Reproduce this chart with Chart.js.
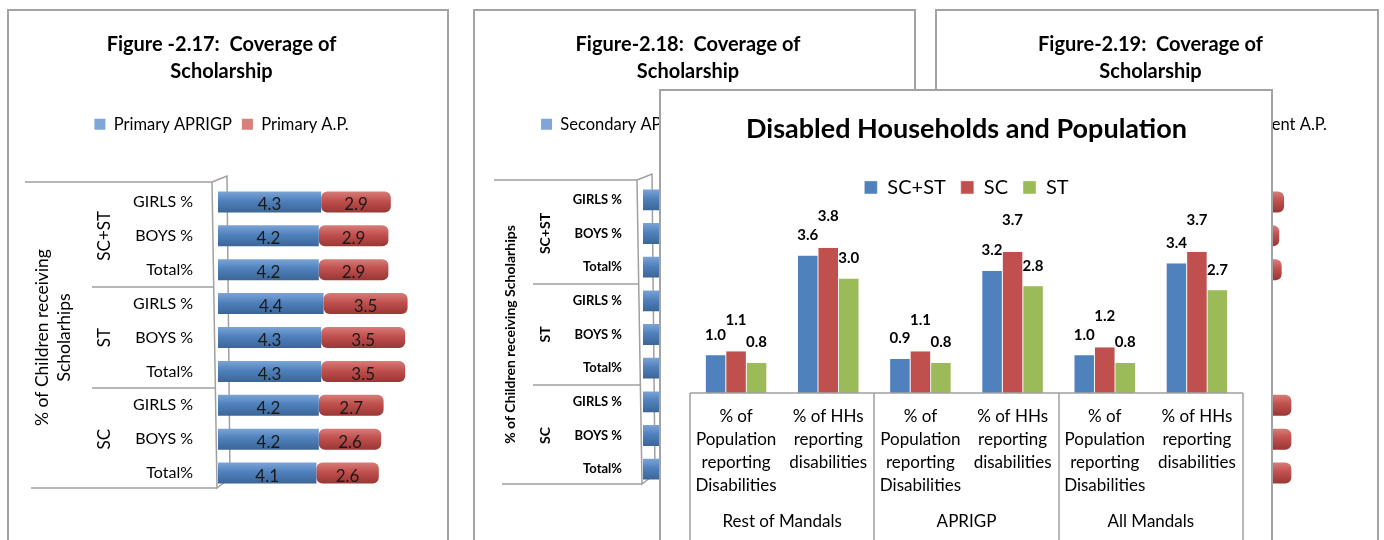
<!DOCTYPE html>
<html>
<head>
<meta charset="utf-8">
<script src="https://cdn.jsdelivr.net/npm/chart.js@4.4.1/dist/chart.umd.min.js"></script>
<style>
body { margin: 0; background: #fff; }
#page { position: relative; width: 1384px; height: 540px; overflow: hidden; background: #fff; }
.panel { position: absolute; border: 2px solid #a3a3a3; background: #fff; box-sizing: border-box; }
.panel canvas { position: absolute; left: 0; top: 0; }
</style>
</head>
<body>
<div id="page">
  <div class="panel" style="left:7px;top:9px;width:442px;height:560px"><canvas id="c1" width="438" height="529"></canvas></div>
  <div class="panel" style="left:473px;top:9px;width:443px;height:560px"><canvas id="c2" width="439" height="529"></canvas></div>
  <div class="panel" style="left:935px;top:9px;width:444px;height:560px"><canvas id="c3" width="440" height="529"></canvas></div>
  <div class="panel" style="left:659px;top:89px;width:614px;height:480px"><canvas id="c4" width="610" height="449"></canvas></div>
</div>
<script>
// ---- data ----
var rowLabels = ['GIRLS %', 'BOYS %', 'Total%', 'GIRLS %', 'BOYS %', 'Total%', 'GIRLS %', 'BOYS %', 'Total%'];
var rowGroupNames = ['SC+ST', 'ST', 'SC'];

var primaryAprigp = [4.3, 4.2, 4.2, 4.4, 4.3, 4.3, 4.2, 4.2, 4.1];
var primaryAP = [2.9, 2.9, 2.9, 3.5, 3.5, 3.5, 2.7, 2.6, 2.6];

// fig 2.18 / 2.19 are mostly hidden behind the front chart; values estimated
var secondaryAprigp = [3.9, 3.8, 3.8, 4.1, 4.0, 4.0, 3.7, 3.6, 3.6];
var secondaryAP = [2.4, 2.4, 2.3, 2.8, 2.8, 2.7, 2.2, 2.2, 2.1];
var juniorAprigp = [3.2, 3.1, 3.1, 2.8, 2.7, 2.7, 3.4, 3.4, 3.4];
var juniorAP = [2.5, 2.4, 2.5, 2.1, 2.1, 2.1, 2.6, 2.6, 2.6];

var disCategories = [
  ['% of', 'Population', 'reporting', 'Disabilities'], ['% of HHs', 'reporting', 'disabilities'],
  ['% of', 'Population', 'reporting', 'Disabilities'], ['% of HHs', 'reporting', 'disabilities'],
  ['% of', 'Population', 'reporting', 'Disabilities'], ['% of HHs', 'reporting', 'disabilities']
];
var disGroups = ['Rest of Mandals', 'APRIGP', 'All Mandals'];
var scst = [1.0, 3.6, 0.9, 3.2, 1.0, 3.4];
var sc = [1.1, 3.8, 1.1, 3.7, 1.2, 3.7];
var st = [0.8, 3.0, 0.8, 2.8, 0.8, 2.7];

var BLUE = '#4f81bd', RED = '#c0504d', GREEN = '#9bbb59';

Chart.defaults.font.family = 'Lato';
Chart.defaults.color = '#000';

// cylinder-ish shading across each horizontal bar
function cylinder(base, light, dark) {
  return function (c) {
    if (c.dataIndex === undefined || !c.chart.scales.y) return base;
    var y = c.chart.scales.y.getPixelForValue(c.dataIndex);
    if (!isFinite(y)) return base;
    var g = c.chart.ctx.createLinearGradient(0, y - 11, 0, y + 11);
    g.addColorStop(0, light);
    g.addColorStop(0.45, base);
    g.addColorStop(1, dark);
    return g;
  };
}

var barLabels = {
  id: 'barLabels',
  afterDatasetsDraw: function (chart, args, o) {
    var ctx = chart.ctx;
    ctx.save();
    ctx.font = o.font;
    ctx.fillStyle = o.color;
    ctx.textAlign = 'center';
    ctx.textBaseline = 'middle';
    chart.data.datasets.forEach(function (ds, i) {
      chart.getDatasetMeta(i).data.forEach(function (el, j) {
        var v = ds.data[j].toFixed(1);
        if (o.inside) ctx.fillText(v, (el.x + el.base) / 2, el.y + 3);
        else ctx.fillText(v, el.x, el.y - o.lift[i]);
      });
    });
    ctx.restore();
  }
};

var rowGroups = {
  id: 'rowGroups',
  beforeDatasetsDraw: function (chart, args, o) {
    var a = chart.chartArea, ctx = chart.ctx;
    var n = o.groups.length, h = (a.bottom - a.top) / n;
    function wallX(y) { return a.left - 6 + 5 * (y - a.top) / (a.bottom - a.top); }
    ctx.save();
    ctx.strokeStyle = '#a0a0a0';
    ctx.lineWidth = 1.5;
    ctx.beginPath();
    for (var k = 0; k <= n; k++) {
      var y = Math.round(a.top + k * h) - (k === 0 ? 3 : (k === n ? 2 : 0));
      var x0 = k === 0 ? o.outerTop : (k === n ? o.outerBottom : o.inner);
      ctx.moveTo(x0, y);
      ctx.lineTo(wallX(y), y);
    }
    ctx.moveTo(a.left - 6, a.top - 3);
    ctx.lineTo(a.left - 1, a.bottom - 2);
    ctx.lineTo(a.left + 12, a.bottom - 12);
    ctx.lineTo(a.left + 9, a.top - 9);
    ctx.lineTo(a.left - 6, a.top - 3);
    ctx.stroke();

    ctx.fillStyle = '#000';
    ctx.textAlign = 'center';
    ctx.textBaseline = 'middle';
    ctx.font = o.groupFont;
    o.groups.forEach(function (g, k) {
      ctx.save();
      ctx.translate(o.groupX, a.top + (k + 0.5) * h);
      ctx.rotate(-Math.PI / 2);
      ctx.fillText(g, 0, 0);
      ctx.restore();
    });
    ctx.font = o.titleFont;
    ctx.translate(o.titleX, (a.top + a.bottom) / 2);
    ctx.rotate(-Math.PI / 2);
    o.title.forEach(function (t, i) { ctx.fillText(t, 0, i * 22); });
    ctx.restore();
  }
};

var colGroups = {
  id: 'colGroups',
  afterDraw: function (chart, args, o) {
    var a = chart.chartArea, ctx = chart.ctx;
    var n = o.groups.length, w = (a.right - a.left) / n;
    ctx.save();
    ctx.strokeStyle = '#a0a0a0';
    ctx.lineWidth = 1.5;
    ctx.beginPath();
    ctx.moveTo(a.left, a.bottom);
    ctx.lineTo(a.right, a.bottom);
    for (var k = 0; k <= n; k++) {
      var x = Math.round(a.left + k * w);
      ctx.moveTo(x, a.bottom);
      ctx.lineTo(x, chart.height);
    }
    ctx.stroke();
    ctx.font = o.font;
    ctx.fillStyle = '#000';
    ctx.textAlign = 'center';
    ctx.textBaseline = 'middle';
    o.groups.forEach(function (g, k) { ctx.fillText(g, a.left + (k + 0.5) * w, a.bottom + o.offset); });
    ctx.restore();
  }
};

function coverageChart(id, title, names, first, second, look) {
  return new Chart(document.getElementById(id), {
    type: 'bar',
    data: {
      labels: rowLabels,
      datasets: [
        { label: names[0], data: first, backgroundColor: cylinder(BLUE, '#7fa6d6', '#3b6494'),
          borderRadius: 6, borderSkipped: false, barPercentage: 0.62, categoryPercentage: 1 },
        { label: names[1], data: second, backgroundColor: cylinder(RED, '#d97f7c', '#973634'),
          borderRadius: 6, borderSkipped: false, barPercentage: 0.62, categoryPercentage: 1 }
      ]
    },
    options: {
      indexAxis: 'y',
      responsive: false,
      animation: false,
      layout: { padding: { left: 0, right: 13, top: 0, bottom: look.bottom } },
      plugins: {
        title: { display: true, text: [title, 'Scholarship'], color: '#000',
          font: { size: 20, weight: 'bold', lineHeight: 1.35 }, padding: { top: 20, bottom: 21 } },
        legend: { labels: { boxWidth: 11, boxHeight: 11, padding: 10, color: '#000', font: { size: 16.5 } } },
        tooltip: { enabled: false },
        barLabels: { inside: true, font: '17px Lato', color: '#1a1a1a' },
        rowGroups: look.groups
      },
      scales: {
        x: { position: 'top', stacked: true, min: 0, max: look.max,
          ticks: { display: false }, grid: { display: false, drawTicks: false }, border: { display: false },
          afterFit: function (s) { s.height = look.top; } },
        y: { stacked: true, grid: { display: false, drawTicks: false }, border: { display: false },
          ticks: { padding: look.tickPad, color: '#000', font: look.tickFont },
          afterFit: function (s) { s.width = look.left; } }
      }
    },
    plugins: [rowGroups, barLabels]
  });
}

coverageChart('c1', 'Figure -2.17:  Coverage of', ['Primary APRIGP', 'Primary A.P.'], primaryAprigp, primaryAP, {
  bottom: 50, top: 42.5, left: 209, max: 9, tickPad: 25, tickFont: { size: 16 },
  groups: { groups: rowGroupNames, outerTop: 16, outerBottom: 22, inner: 83, groupX: 96,
    groupFont: '17px Lato', titleX: 33, titleFont: '17.5px Lato', title: ['% of Children receiving', 'Scholarhips'] }
});

coverageChart('c2', 'Figure-2.18:  Coverage of', ['Secondary APRIGP', 'Secondary A.P.'], secondaryAprigp, secondaryAP, {
  bottom: 54, top: 40.5, left: 168, max: 10.5, tickPad: 21, tickFont: { size: 13, weight: 'bold' },
  groups: { groups: rowGroupNames, outerTop: 19, outerBottom: 27, inner: 58, groupX: 70,
    groupFont: 'bold 14px Lato', titleX: 35, titleFont: 'bold 14px Lato', title: ['% of Children receiving Scholarhips'] }
});

coverageChart('c3', 'Figure-2.19:  Coverage of', ['Junior Student APRIGP', 'Junior Student A.P.'], juniorAprigp, juniorAP, {
  bottom: 50, top: 42.5, left: 209, max: 9, tickPad: 25, tickFont: { size: 16 },
  groups: { groups: rowGroupNames, outerTop: 16, outerBottom: 22, inner: 83, groupX: 96,
    groupFont: '17px Lato', titleX: 33, titleFont: '17.5px Lato', title: ['% of Children receiving', 'Scholarhips'] }
});

new Chart(document.getElementById('c4'), {
  type: 'bar',
  data: {
    labels: disCategories,
    datasets: [
      { label: 'SC+ST', data: scst, backgroundColor: BLUE, borderColor: '#e8eef7', borderWidth: 0.5 },
      { label: 'SC', data: sc, backgroundColor: RED, borderColor: '#f3e0df', borderWidth: 0.5 },
      { label: 'ST', data: st, backgroundColor: GREEN, borderColor: '#eef4e4', borderWidth: 0.5 }
    ]
  },
  options: {
    responsive: false,
    animation: false,
    categoryPercentage: 0.667,
    barPercentage: 1,
    layout: { padding: { left: 29, right: 28, top: 0, bottom: 0 } },
    plugins: {
      title: { display: true, text: 'Disabled Households and Population', color: '#000',
        font: { size: 27, weight: 'bold', lineHeight: 1.2 }, padding: { top: 22, bottom: 17 } },
      legend: { labels: { boxWidth: 13, boxHeight: 13, padding: 15, color: '#000', font: { size: 20 } } },
      tooltip: { enabled: false },
      barLabels: { inside: false, font: 'bold 15px Lato', color: '#000', lift: [20, 31, 20] },
      colGroups: { groups: disGroups, font: '17px Lato', offset: 129 }
    },
    scales: {
      x: { grid: { display: false, drawTicks: false }, border: { display: false },
        ticks: { padding: 12, maxRotation: 0, autoSkip: false, color: '#000', font: { size: 17, lineHeight: 1.353 } },
        afterFit: function (s) { s.height = 147; } },
      y: { display: false, min: 0, max: 4.85 }
    }
  },
  plugins: [barLabels, colGroups]
});
</script>
</body>
</html>
